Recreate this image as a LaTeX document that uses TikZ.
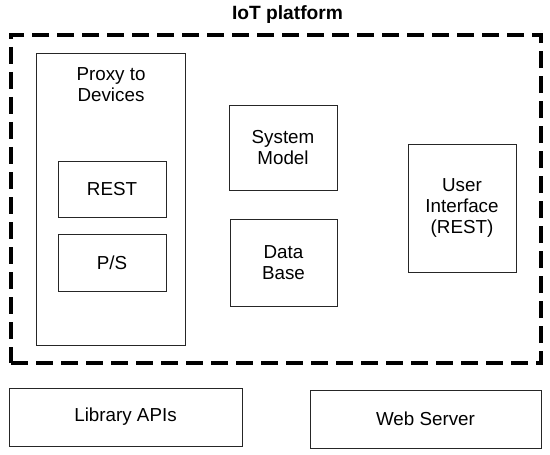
\documentclass[tikz,border=0pt]{standalone}
\usepackage{fontspec}
\setmainfont{Liberation Sans}
\begin{document}
\begin{tikzpicture}[x=1pt,y=-1pt,
  box/.style={draw=black!85, line width=0.9pt, rectangle, inner sep=0pt, align=center,
    font=\fontsize{18.8}{21}\selectfont},
  platformbox/.style={draw=black, line width=3.3pt, dash pattern=on 17pt off 8pt, rectangle, inner sep=0pt},
  lbl/.style={inner sep=0pt, align=center, font=\fontsize{18.8}{21}\selectfont}]
\useasboundingbox (0,0) rectangle (550,455);
\node[lbl, font=\bfseries\fontsize{19.2}{21}\selectfont] (title) at (287.5,15) {IoT platform};
\node[platformbox, minimum width=530pt, minimum height=328pt] (platform) at (276,199) {};
\node[box, minimum width=149pt, minimum height=292pt] (proxy) at (110.5,199) {};
\node[lbl] (proxylabel) at (111,85) {Proxy to\\Devices};
\node[box, minimum width=108pt, minimum height=56pt] (rest) at (112,189) {REST};
\node[box, minimum width=108pt, minimum height=57pt] (ps) at (112,262.5) {P/S};
\node[box, minimum width=108pt, minimum height=85pt] (sysmodel) at (283,147.5) {System\\Model};
\node[box, minimum width=107pt, minimum height=87pt] (database) at (283.5,262.5) {Data\\Base};
\node[box, minimum width=108pt, minimum height=128pt] (ui) at (462,208) {User\\Interface\\(REST)};
\node[box, minimum width=233pt, minimum height=58pt] (lib) at (125.5,417) {Library APIs};
\node[box, minimum width=231pt, minimum height=58pt] (web) at (425.5,419) {Web Server};
\end{tikzpicture}
\end{document}
